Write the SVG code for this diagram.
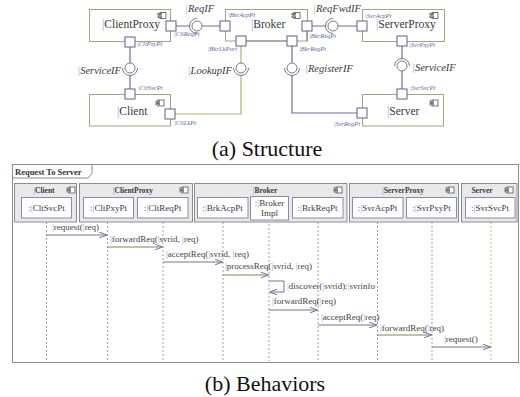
<svg xmlns="http://www.w3.org/2000/svg" xmlns:xlink="http://www.w3.org/1999/xlink" width="520" height="397" viewBox="0 0 520 397">
  <style>
    .box{fill:none;stroke:#a8a37c;stroke-width:1}
    .port{fill:#fff;stroke:#5e5e8e;stroke-width:1}
    .cp{fill:none;stroke:#6c6ca0;stroke-width:1.2}
    .co{fill:none;stroke:#b7b06c;stroke-width:1.2}
    .ball{fill:#fff;stroke:#7a7a8a;stroke-width:1}
    .sock{fill:none;stroke:#7a7a8a;stroke-width:1}
    .name{font-family:"Liberation Serif",serif;font-size:11.5px;fill:#3a3a3a}
    .ifl{font-family:"Liberation Serif",serif;font-style:italic;font-size:10.5px;fill:#3a3a3a}
    .pl{font-family:"Liberation Serif",serif;font-style:italic;font-size:6.5px;fill:#5a6aa8}
    .bar{fill:#86a0da}
    .cap{font-family:"Liberation Serif",serif;font-size:22px;fill:#111}
    .frame{fill:none;stroke:#8a8a9e;stroke-width:1}
    .ftab{fill:#fff;stroke:#8a8a9e;stroke-width:1}
    .ftxt{font-family:"Liberation Serif",serif;font-weight:bold;font-size:8.5px;fill:#333}
    .grp{fill:#e9e9e9;stroke:#8c8c8c;stroke-width:1}
    .gt{font-family:"Liberation Serif",serif;font-weight:bold;font-size:7.5px;fill:#3a3a3a}
    .ll{fill:#fff;stroke:#8a8ab4;stroke-width:1}
    .lt{font-family:"Liberation Serif",serif;font-size:9px;fill:#3a3a3a}
    .life{stroke:#9c9cb8;stroke-width:1;stroke-dasharray:2 2}
    .lifeo{stroke:#c8c070;stroke-width:1;stroke-dasharray:2 2}
    .msg{fill:none;stroke:#74749c;stroke-width:1;marker-end:url(#oa)}
    .msgo{fill:none;stroke:#8a8050;stroke-width:1;marker-end:url(#oa)}
    .mt{font-family:"Liberation Serif",serif;font-size:9px;fill:#444}
    .ic{fill:#fff;stroke:#555;stroke-width:0.8}
  </style>
  <defs>
    <marker id="oa" viewBox="0 0 8 6" refX="8" refY="3" markerWidth="8" markerHeight="6" markerUnits="userSpaceOnUse" orient="auto">
      <path d="M0,0 L8,3 L0,6" fill="none" stroke="#74749c" stroke-width="1"/>
    </marker>
    <g id="cmp">
      <rect class="ic" x="2" y="0" width="6" height="6"/>
      <rect class="ic" x="0" y="1" width="3.5" height="1.3"/>
      <rect class="ic" x="0" y="3.6" width="3.5" height="1.3"/>
    </g>
  </defs>

  <rect width="520" height="397" fill="#fff"/>

  <!-- (a) component structure -->
  <g id="connectors">
    <!-- ReqIF -->
    <path class="cp" d="M176,26 H189.5 M202,26 H220"/>
    <!-- ReqFwdIF -->
    <path class="cp" d="M312,26 H325.5 M338,26 H357"/>
    <!-- ServiceIF (client side) -->
    <path class="cp" d="M130,47 V63 M130,75.5 V89"/>
    <!-- LookupIF -->
    <path class="co" d="M241,46 V63 M241,75.5 V114 H175"/>
    <!-- RegisterIF -->
    <path class="cp" d="M292,46 V63 M292,75.5 V113 H357"/>
    <!-- ServiceIF (server side) -->
    <path class="cp" d="M402,46 V58.5 M402,71 V89"/>
    <!-- broker internal wiring -->
    <path class="cp" d="M246,41 H287 M307,31 V41"/>
  </g>

  <g id="ClientProxy">
    <rect class="box" x="89.5" y="9.5" width="81" height="32"/>
    <use xlink:href="#cmp" x="158" y="12.5"/>
    <text class="name" x="102" y="28"><tspan class="bar">|</tspan>ClientProxy</text>
    <rect class="port" x="166" y="21" width="10" height="10"/>
    <rect class="port" x="125" y="37" width="10" height="10"/>
    <text class="pl" x="174" y="36"><tspan>|</tspan>CltReqPt</text>
    <text class="pl" x="137" y="46">|CltPxyPt</text>
  </g>

  <g id="Broker">
    <rect class="box" x="225.5" y="9.5" width="82" height="31.5"/>
    <use xlink:href="#cmp" x="292" y="12.5"/>
    <text class="name" x="251" y="28"><tspan class="bar">|</tspan>Broker</text>
    <rect class="port" x="220" y="21" width="10" height="10"/>
    <rect class="port" x="302" y="21" width="10" height="10"/>
    <rect class="port" x="236" y="36" width="10" height="10"/>
    <rect class="port" x="287" y="36" width="10" height="10"/>
    <text class="pl" x="228" y="17">|BkrAcpPt</text>
    <text class="pl" x="309" y="38">|BkrReqPt</text>
    <text class="pl" x="237" y="51" text-anchor="end">|BkrLkPort</text>
    <text class="pl" x="299" y="51">|BkrRegPt</text>
  </g>

  <g id="ServerProxy">
    <rect class="box" x="362.5" y="9.5" width="82" height="32"/>
    <use xlink:href="#cmp" x="430" y="12.5"/>
    <text class="name" x="376" y="28"><tspan class="bar">|</tspan>ServerProxy</text>
    <rect class="port" x="357" y="21" width="10" height="10"/>
    <rect class="port" x="397" y="36" width="10" height="10"/>
    <text class="pl" x="365" y="18">|SvrAcpPt</text>
    <text class="pl" x="409" y="47">|SvrPxyPt</text>
  </g>

  <g id="Client">
    <rect class="box" x="89.5" y="94.5" width="81" height="31.5"/>
    <use xlink:href="#cmp" x="156" y="100"/>
    <text class="name" x="117" y="115"><tspan class="bar">|</tspan>Client</text>
    <rect class="port" x="125" y="89" width="10" height="10"/>
    <rect class="port" x="165" y="109" width="10" height="10"/>
    <text class="pl" x="138" y="90">|CltSvcPt</text>
    <text class="pl" x="174" y="125">|CltLkPt</text>
  </g>

  <g id="Server">
    <rect class="box" x="362.5" y="94.5" width="81" height="31.5"/>
    <use xlink:href="#cmp" x="430" y="100"/>
    <text class="name" x="387" y="115"><tspan class="bar">|</tspan>Server</text>
    <rect class="port" x="397" y="89" width="10" height="10"/>
    <rect class="port" x="357" y="108" width="10" height="10"/>
    <text class="pl" x="410" y="90">|SvrSvcPt</text>
    <text class="pl" x="360" y="126" text-anchor="end">|SvrRegPt</text>
  </g>

  <g id="ReqIF">
    <path class="sock" d="M197,18.5 A7.5,7.5 0 0 0 197,33.5"/>
    <circle class="ball" cx="197" cy="26" r="5"/>
    <text class="ifl" x="185" y="12"><tspan class="bar">|</tspan>ReqIF</text>
  </g>
  <g id="ReqFwdIF">
    <path class="sock" d="M333,18.5 A7.5,7.5 0 0 0 333,33.5"/>
    <circle class="ball" cx="333" cy="26" r="5"/>
    <text class="ifl" x="313" y="12"><tspan class="bar">|</tspan>ReqFwdIF</text>
  </g>
  <g id="ServiceIF-client">
    <path class="sock" d="M122.5,68 A7.5,7.5 0 0 0 137.5,68"/>
    <circle class="ball" cx="130" cy="68" r="5"/>
    <text class="ifl" x="121" y="74" text-anchor="end"><tspan class="bar">|</tspan>ServiceIF</text>
  </g>
  <g id="LookupIF">
    <path class="sock" d="M233.5,68 A7.5,7.5 0 0 0 248.5,68"/>
    <circle class="ball" cx="241" cy="68" r="5"/>
    <text class="ifl" x="232" y="74" text-anchor="end"><tspan class="bar">|</tspan>LookupIF</text>
  </g>
  <g id="RegisterIF">
    <path class="sock" d="M284.5,68 A7.5,7.5 0 0 0 299.5,68"/>
    <circle class="ball" cx="292" cy="68" r="5"/>
    <text class="ifl" x="305" y="72"><tspan class="bar">|</tspan>RegisterIF</text>
  </g>
  <g id="ServiceIF-server">
    <path class="sock" d="M394.5,66 A7.5,7.5 0 0 1 409.5,66"/>
    <circle class="ball" cx="402" cy="66" r="5"/>
    <text class="ifl" x="412" y="71"><tspan class="bar">|</tspan>ServiceIF</text>
  </g>

  <text class="cap" x="267" y="156" text-anchor="middle">(a) Structure</text>

  <!-- (b) interaction -->
  <g id="frame">
    <rect class="frame" x="12.5" y="164.5" width="506" height="198"/>
    <path class="ftab" d="M12.5,164.5 H92 V173.5 L88,178 H12.5 Z"/>
    <text class="ftxt" x="15" y="174.5">Request To Server</text>
  </g>

  <g id="lifelines">
    <line class="life" x1="46.5" y1="218" x2="46.5" y2="361"/>
    <line class="life" x1="107.5" y1="218" x2="107.5" y2="361"/>
    <line class="life" x1="163" y1="218" x2="163" y2="361"/>
    <line class="life" x1="223" y1="218" x2="223" y2="361"/>
    <line class="life" x1="269" y1="220" x2="269" y2="361"/>
    <line class="life" x1="318" y1="218" x2="318" y2="361"/>
    <line class="life" x1="377.5" y1="218" x2="377.5" y2="361"/>
    <line class="life" x1="432" y1="218" x2="432" y2="361"/>
    <line class="lifeo" x1="491" y1="218" x2="491" y2="361"/>
  </g>

  <g id="seq-Client">
    <rect class="grp" x="14.5" y="183.5" width="62" height="38.5"/>
    <text class="gt" x="44" y="193" text-anchor="middle"><tspan class="bar">|</tspan>Client</text>
    <use xlink:href="#cmp" x="67" y="187"/>
    <rect class="ll" x="21.5" y="197.5" width="50" height="20.5"/>
    <text class="lt" x="46.5" y="211" text-anchor="middle">:<tspan class="bar">|</tspan>CltSvcPt</text>
  </g>

  <g id="seq-ClientProxy">
    <rect class="grp" x="79.5" y="183.5" width="113" height="38.5"/>
    <text class="gt" x="133" y="193" text-anchor="middle"><tspan class="bar">|</tspan>ClientProxy</text>
    <use xlink:href="#cmp" x="180" y="187"/>
    <rect class="ll" x="83.5" y="197.5" width="50" height="20.5"/>
    <text class="lt" x="108.5" y="211" text-anchor="middle">:<tspan class="bar">|</tspan>CltPxyPt</text>
    <rect class="ll" x="137.5" y="197.5" width="50.5" height="20.5"/>
    <text class="lt" x="162.5" y="211" text-anchor="middle">:<tspan class="bar">|</tspan>CltReqPt</text>
  </g>

  <g id="seq-Broker">
    <rect class="grp" x="194.5" y="183.5" width="152.5" height="38.5"/>
    <text class="gt" x="265" y="193" text-anchor="middle"><tspan class="bar">|</tspan>Broker</text>
    <use xlink:href="#cmp" x="334" y="187"/>
    <rect class="ll" x="197.5" y="197.5" width="50.5" height="20.5"/>
    <text class="lt" x="222.5" y="211" text-anchor="middle">:<tspan class="bar">|</tspan>BrkAcpPt</text>
    <rect class="ll" x="250.5" y="196.5" width="38" height="23.5"/>
    <text class="lt" x="269.5" y="205.5" text-anchor="middle">:<tspan class="bar">|</tspan>Broker</text>
    <text class="lt" x="269.5" y="216" text-anchor="middle">Impl</text>
    <rect class="ll" x="292.5" y="197.5" width="50.5" height="20.5"/>
    <text class="lt" x="317.5" y="211" text-anchor="middle">:<tspan class="bar">|</tspan>BrkReqPt</text>
  </g>

  <g id="seq-ServerProxy">
    <rect class="grp" x="349.5" y="183.5" width="109" height="38.5"/>
    <text class="gt" x="403" y="193" text-anchor="middle"><tspan class="bar">|</tspan>ServerProxy</text>
    <use xlink:href="#cmp" x="446" y="187"/>
    <rect class="ll" x="352.5" y="197.5" width="50.5" height="20.5"/>
    <text class="lt" x="377.5" y="211" text-anchor="middle">:<tspan class="bar">|</tspan>SvrAcpPt</text>
    <rect class="ll" x="406.5" y="197.5" width="50" height="20.5"/>
    <text class="lt" x="431.5" y="211" text-anchor="middle">:<tspan class="bar">|</tspan>SvrPxyPt</text>
  </g>

  <g id="seq-Server">
    <rect class="grp" x="461.5" y="183.5" width="55.5" height="38.5"/>
    <text class="gt" x="482" y="193" text-anchor="middle">Server</text>
    <use xlink:href="#cmp" x="505" y="187"/>
    <rect class="ll" x="465.5" y="197.5" width="49.5" height="20.5"/>
    <text class="lt" x="490" y="211" text-anchor="middle">:<tspan class="bar">|</tspan>SvrSvcPt</text>
  </g>

  <g id="messages">
    <path class="msg" d="M46.5,235 H107"/>
    <text class="mt" x="52" y="230"><tspan class="bar">|</tspan>request(<tspan class="bar">|</tspan>req)</text>

    <path class="msgo" d="M107.5,247 H162.5"/>
    <text class="mt" x="110" y="242"><tspan class="bar">|</tspan>forwardReq(<tspan class="bar">|</tspan>svrid, <tspan class="bar">|</tspan>req)</text>

    <path class="msg" d="M163,262 H222.5"/>
    <text class="mt" x="166" y="257"><tspan class="bar">|</tspan>acceptReq(<tspan class="bar">|</tspan>svrid, <tspan class="bar">|</tspan>req)</text>

    <path class="msgo" d="M223,275 H268.5"/>
    <text class="mt" x="225" y="269"><tspan class="bar">|</tspan>processReq(<tspan class="bar">|</tspan>svrid, <tspan class="bar">|</tspan>req)</text>

    <path class="msg" d="M269,281 H284 V292 H269.5"/>
    <text class="mt" x="287" y="289"><tspan class="bar">|</tspan>discover(<tspan class="bar">|</tspan>svrid):<tspan class="bar">|</tspan>svrinfo</text>

    <path class="msg" d="M269,310 H317.5"/>
    <text class="mt" x="272" y="304"><tspan class="bar">|</tspan>forwardReq(<tspan class="bar">|</tspan>req)</text>

    <path class="msg" d="M318,325 H377"/>
    <text class="mt" x="321" y="320"><tspan class="bar">|</tspan>acceptReq(<tspan class="bar">|</tspan>req)</text>

    <path class="msgo" d="M377.5,335 H431.5"/>
    <text class="mt" x="380" y="331"><tspan class="bar">|</tspan>forwardReq(<tspan class="bar">|</tspan>req)</text>

    <path class="msg" d="M432,347 H490.5"/>
    <text class="mt" x="444" y="342"><tspan class="bar">|</tspan>request()</text>
  </g>

  <text class="cap" x="265" y="391" text-anchor="middle">(b) Behaviors</text>
</svg>
